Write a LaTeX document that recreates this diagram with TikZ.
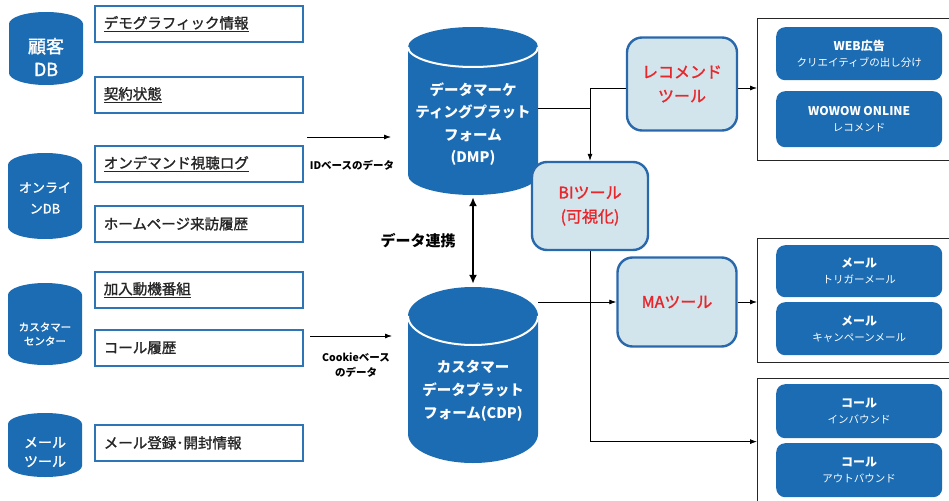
\documentclass[tikz,border=0pt]{standalone}
\usepackage{fontspec}
\setmainfont{Noto Sans CJK JP}
\newfontfamily\heavyjp{Noto Sans CJK JP}[FakeBold=1.5]
\usetikzlibrary{arrows.meta,positioning}
\definecolor{Drum}{HTML}{1C6CB4}
\definecolor{Frame}{HTML}{2E75B6}
\definecolor{Pale}{HTML}{D2E5ED}
\definecolor{ToolEdge}{HTML}{2A68AC}
\definecolor{Alert}{HTML}{E8262B}
\definecolor{Ink}{HTML}{262626}

% drum: centre x, top y, bottom y, half width, end depth
\newcommand\drumbody[5]{%
  \fill[Drum] (#1-#4,#2+#5) arc[start angle=180,end angle=360,x radius=#4,y radius=#5]
    -- (#1+#4,#3-#5) arc[start angle=0,end angle=180,x radius=#4,y radius=#5] -- cycle;}

\tikzset{
  drumframe/.style={inner sep=0pt},
  drumtext/.style={text=white,align=center},
  itembox/.style={draw=Frame,line width=1.6pt,anchor=north west,minimum height=36pt,text width=190pt,inner xsep=9pt,align=left,text=Ink,font=\heavyjp\fontsize{14.5}{18}\selectfont},
  toolbox/.style={draw=ToolEdge,fill=Pale,line width=2.4pt,rounded corners=15pt,text=Alert,align=center,font=\heavyjp\fontsize{16}{24}\selectfont},
  groupbox/.style={draw=Ink,line width=1.2pt,anchor=north west,minimum width=220pt},
  pill/.style={fill=Drum,rounded corners=9pt,text=white,align=center,anchor=north west,minimum width=166pt,font=\fontsize{10.5}{16}\selectfont},
  flow/.style={-{Latex[length=7pt,width=5pt]},line width=0.8pt},
}

\begin{document}
\begin{tikzpicture}[x=1pt,y=-1pt]
  \clip (0,0) rectangle (949,500);
  % source databases
  \drumbody{46}{12}{85}{37}{12}
  \drumbody{45}{153}{239}{37}{12}
  \drumbody{45}{283}{365}{37}{12}
  \drumbody{45}{413}{477}{37}{11}
  \node[drumtext,font=\heavyjp\fontsize{18}{23}\selectfont] (cust) at (46,57) {顧客\\DB};
  \node[drumtext,font=\heavyjp\fontsize{13}{21}\selectfont] (online) at (45,198) {オンライ\\ンDB};
  \node[drumtext,font=\heavyjp\fontsize{10.5}{14}\selectfont] (center) at (45,334) {カスタマー\\センター};
  \node[drumtext,font=\heavyjp\fontsize{14}{19}\selectfont] (mailtool) at (45,452) {メール\\ツール};

  \foreach \n/\y/\t in {demo/5/\underline{デモグラフィック情報},contract/76/\underline{契約状態},vod/145/\underline{オンデマンド視聴ログ},web/205/ホームページ来訪履歴,motive/271/\underline{加入動機番組},call/329/コール履歴,mail/424/メール登録･開封情報}
    \node[itembox] (item\n) at (94,\y) {\t};

  % platforms
  \drumbody{473}{27}{195}{65}{20}
  \draw[white,line width=2pt] (408,47) arc[start angle=180,end angle=0,x radius=65,y radius=20];
  \drumbody{473}{287}{463}{65}{29}
  \draw[white,line width=2pt] (408,316) arc[start angle=180,end angle=0,x radius=65,y radius=29];
  \node[drumframe,minimum width=130pt,minimum height=168pt] (dmp) at (473,111) {};
  \node[drumframe,minimum width=130pt,minimum height=176pt] (cdp) at (473,375) {};
  \node[drumtext,font=\bfseries\fontsize{14.5}{22.5}\selectfont] (dmptext) at (473,124) {データマーケ\\ティングプラット\\フォーム\\(DMP)};
  \node[drumtext,font=\bfseries\fontsize{14.5}{23}\selectfont] (cdptext) at (473,391) {カスタマー\\データプラット\\フォーム(CDP)};

  \coordinate (idin) at (307,137);
  \coordinate (idout) at (391,137);
  \draw[flow] (idin) -- (idout);
  \node[font=\bfseries\fontsize{10.5}{13}\selectfont] (idlab) at (352,165) {IDベースのデータ};
  \coordinate (ckin) at (310,336);
  \coordinate (ckout) at (392,336);
  \draw[flow] (ckin) -- (ckout);
  \node[font=\bfseries\fontsize{10.5}{15}\selectfont,align=center] (cklab) at (356,365) {Cookieベース\\のデータ};

  \draw[{Latex[length=9pt,width=8pt]}-{Latex[length=9pt,width=8pt]},line width=2.2pt] ([yshift=-2pt]dmp.south) -- ([yshift=3pt]cdp.north);
  \node[font=\bfseries\fontsize{15}{18}\selectfont] (link) at (418,241) {データ連携};

  % tools
  \node[toolbox,minimum width=110pt,minimum height=93pt] (reco) at (682,84) {レコメンド\\ツール};
  \node[toolbox,minimum width=116pt,minimum height=88pt] (bi) at (590,206) {BIツール\\(可視化)};
  \node[toolbox,minimum width=119pt,minimum height=89pt] (ma) at (677,302) {MAツール};

  % channels
  \node[groupbox,minimum height=142pt] (grpA) at (757,18) {};
  \node[groupbox,minimum height=124pt] (grpB) at (757,238) {};
  \node[groupbox,minimum height=126pt] (grpC) at (757,378) {};
  \foreach \n/\y/\h/\a/\b in {ad/27/53/WEB広告/クリエイティブの出し分け,online/91/56/WOWOW ONLINE/レコメンド,trigger/245/52/メール/トリガーメール,campaign/302/53/メール/キャンペーンメール,inbound/384/54/コール/インバウンド,outbound/443/54/コール/アウトバウンド}
    \node[pill,minimum height=\h pt] (out\n) at (776,\y) {{\bfseries\fontsize{12}{16}\selectfont\a}\\\b};

  % connectors
  \draw[flow] ([yshift=3pt]dmp.east) -| (bi.north);
  \draw ([yshift=-4pt]reco.west) -- ([yshift=-4pt]reco.west -| bi.north) -- (bi.north |- dmp.east);
  \draw[flow] ([yshift=-4pt]reco.east) -- ([yshift=-4pt]reco.east -| grpA.west);
  \draw[flow] (bi.south) |- (grpC.west);
  \draw[flow] (ma.west -| cdp.east) -- (ma.west);
  \draw[flow] (ma.east) -- (ma.east -| grpB.west);
\end{tikzpicture}
\end{document}
